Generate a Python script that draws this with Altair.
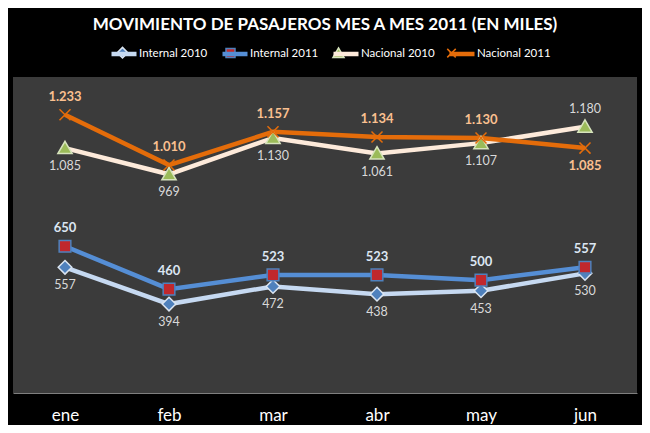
import altair as alt
import pandas as pd

months = ["ene", "feb", "mar", "abr", "may", "jun"]
series_names = ["Internal 2010", "Internal 2011", "Nacional 2010", "Nacional 2011"]
internal_2010 = [557, 394, 472, 438, 453, 530]
internal_2011 = [650, 460, 523, 523, 500, 557]
nacional_2010 = [1085, 969, 1130, 1061, 1107, 1180]
nacional_2011 = [1233, 1010, 1157, 1134, 1130, 1085]
title_text = "MOVIMIENTO DE PASAJEROS MES A MES 2011 (EN MILES)"

line_colors = ["#c6d9f1", "#558ed5", "#fdeada", "#e46c0a"]
marker_fills = ["#4f81bd", "#c0282d", "#9bbb59", "transparent"]
marker_strokes = ["#dbe5f1", "#4f81bd", "#d7e4bd", "#e46c0a"]
label_colors = ["#d9d9d9", "#dce6f2", "#d9d9d9", "#fac090"]
label_bold = [False, True, False, True]
# leading moves widen each marker's bounds to the width of the legend line
marker_paths = [
    "M-1.36,0M1.36,0M0,-0.42L0.42,0L0,0.42L-0.42,0Z",
    "M-1.36,0M1.36,0M-0.36,-0.36H0.36V0.36H-0.36Z",
    "M-1.36,0M1.36,0M0,-0.42L0.44,0.34H-0.44Z",
    "M-1.36,0M1.36,0M-0.34,-0.34L0.34,0.34M-0.34,0.34L0.34,-0.34",
]
line_symbol = "M-1,0H1"

FONT = "Lato"

rows = []
for name, vals in zip(series_names, [internal_2010, internal_2011, nacional_2010, nacional_2011]):
    for m, v in zip(months, vals):
        rows.append({"mes": m, "serie": name, "serie_m": name, "valor": v})
df = pd.DataFrame(rows)
df["grupo"] = df["serie"].str.split().str[0]
df["label"] = df["valor"].map(lambda v: f"{v:,}".replace(",", "."))
df["above"] = df.groupby(["grupo", "mes"])["valor"].transform("max") == df["valor"]

x_enc = alt.X(
    "mes:N",
    sort=months,
    scale=alt.Scale(domain=months),
    axis=alt.Axis(
        title=None, labelAngle=0, ticks=False, grid=False,
        domainColor="#7f7f7f", domainWidth=1,
        labelColor="white", labelFont=FONT, labelFontSize=17, labelPadding=14,
    ),
)
y_enc = alt.Y("valor:Q", scale=alt.Scale(domain=[0, 1400]), axis=None)

legend_common = dict(
    title=None, orient="none", direction="horizontal",
    legendX=96, legendY=-38, padding=0, columnPadding=5,
    labelOffset=0, labelFont=FONT, labelFontSize=11.5,
    symbolSize=625, symbolOpacity=1,
)

stroke_scale = alt.Scale(domain=series_names, range=line_colors)
base = alt.Chart(df)

lines = base.mark_line(strokeWidth=4.5).encode(
    x=x_enc,
    y=y_enc,
    stroke=alt.Stroke("serie:N", scale=stroke_scale, legend=None),
    detail="serie:N",
)

# invisible points whose only job is to carry the line part of the legend
legend_lines = base.mark_point(opacity=0, filled=False, shape=line_symbol).encode(
    x=x_enc,
    y=y_enc,
    stroke=alt.Stroke(
        "serie:N",
        scale=stroke_scale,
        legend=alt.Legend(
            symbolType=line_symbol, symbolStrokeWidth=4.5, labelColor="white",
            **legend_common,
        ),
    ),
)

legend_b = alt.Legend(symbolStrokeWidth=1.5, labelColor="transparent", **legend_common)
points = base.mark_point(filled=False, opacity=1, size=1050, strokeWidth=1.5).encode(
    x=x_enc,
    y=y_enc,
    color=alt.Color("serie_m:N", scale=alt.Scale(range=marker_strokes), legend=legend_b),
    fill=alt.Fill("serie_m:N", scale=alt.Scale(range=marker_fills), legend=legend_b),
    shape=alt.Shape("serie_m:N", scale=alt.Scale(range=marker_paths), legend=legend_b),
)

text_layers = []
for name, col, bold in zip(series_names, label_colors, label_bold):
    for above in [True, False]:
        t = base.mark_text(
            font=FONT,
            fontSize=13 if bold else 12.5,
            fontWeight="bold" if bold else "normal",
            color=col,
            baseline="middle",
            dy=-18 if above else 18,
        ).encode(x=x_enc, y=y_enc, text="label:N").transform_filter(
            (alt.datum.serie == name) & (alt.datum.above == above)
        )
        text_layers.append(t)

chart = alt.layer(lines, legend_lines, points, *text_layers).properties(
    width=624,
    height=316,
    autosize=alt.AutoSizeParams(type="none"),
    padding={"left": 5, "top": 69, "right": 5, "bottom": 32},
    background="black",
    title=alt.Title(
        title_text, font=FONT, fontSize=17, fontWeight="bold", color="white",
        anchor="middle", offset=12, dy=7,
    ),
).resolve_legend(stroke="independent").configure_view(fill="#3b3b3b", stroke=None)

chart.save("out.html", embed_options={"renderer": "svg", "actions": False})
